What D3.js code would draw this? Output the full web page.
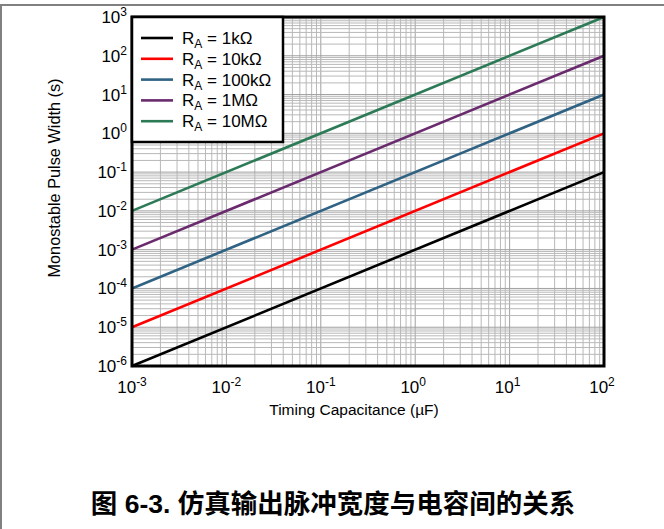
<!DOCTYPE html>
<html>
<head>
<meta charset="utf-8">
<script src="https://cdn.jsdelivr.net/npm/d3@7"></script>
<style>
  html, body { margin: 0; padding: 0; background: #fff; }
  svg text { font-family: "Liberation Sans", Arial, sans-serif; fill: #000; }
</style>
</head>
<body>
<svg id="chart" width="664" height="529"></svg>
<script>
'use strict';

/* ── Data ─────────────────────────────────────────────── */
const capRange   = [1e-3, 1e2];                 // timing capacitance, µF
const seriesName = ['1k\u03A9', '10k\u03A9', '100k\u03A9', '1M\u03A9', '10M\u03A9'];
const seriesCol  = ['#000000', '#ff0000', '#2f6283', '#6a2b6e', '#2c7a56'];
// pulse width (s) at each end of capRange
const seriesVals = [
  [1e-6, 1e-1],
  [1e-5, 1e0],
  [1e-4, 1e1],
  [1e-3, 1e2],
  [1e-2, 1e3]
];
const xExps = [-3, -2, -1, 0, 1, 2];
const yExps = [-6, -5, -4, -3, -2, -1, 0, 1, 2, 3];

/* ── Layout ───────────────────────────────────────────── */
const svg = d3.select('#chart');
const L = 132, R = 604, T = 17, B = 366;

const x = d3.scaleLog().domain(capRange).range([L, R]);
const y = d3.scaleLog().domain([1e-6, 1e3]).range([B, T]);

/* page frame */
svg.append('line').attr('x1', 0).attr('x2', 664).attr('y1', 5).attr('y2', 5)
  .attr('stroke', '#808080').attr('stroke-width', 2);
svg.append('line').attr('x1', 1).attr('x2', 1).attr('y1', 5).attr('y2', 529)
  .attr('stroke', '#808080').attr('stroke-width', 2);

/* ── Grid ── */
const minor = (exps) => {
  const out = [];
  for (let i = 0; i < exps.length - 1; i++)
    for (let k = 1; k < 10; k++) out.push(k * Math.pow(10, exps[i]));
  out.push(Math.pow(10, exps[exps.length - 1]));
  return out;
};

const grid = svg.append('g');
grid.selectAll('.gx').data(minor(xExps)).enter().append('line')
  .attr('x1', d => x(d)).attr('x2', d => x(d)).attr('y1', T).attr('y2', B)
  .attr('stroke', (d, i) => i % 9 === 0 ? '#a0a0a0' : '#b8b8b8').attr('stroke-width', 1);
grid.selectAll('.gy').data(minor(yExps)).enter().append('line')
  .attr('y1', d => y(d)).attr('y2', d => y(d)).attr('x1', L).attr('x2', R)
  .attr('stroke', (d, i) => i % 9 === 0 ? '#a0a0a0' : '#b8b8b8').attr('stroke-width', 1);

/* ── Series ── */
const line = d3.line().x(d => x(d[0])).y(d => y(d[1]));
seriesVals.forEach((v, i) => {
  svg.append('path')
    .attr('d', line([[capRange[0], v[0]], [capRange[1], v[1]]]))
    .attr('fill', 'none').attr('stroke', seriesCol[i]).attr('stroke-width', 2.6);
});

/* plot border */
svg.append('rect').attr('x', L).attr('y', T).attr('width', R - L).attr('height', B - T)
  .attr('fill', 'none').attr('stroke', '#000').attr('stroke-width', 3);

/* ── Tick labels ── */
function pow10(sel, e) {
  sel.append('tspan').text('10');
  sel.append('tspan').attr('dy', -7).attr('font-size', 12).text(e);
}
xExps.forEach(e => {
  const t = svg.append('text').attr('x', x(Math.pow(10, e)) + (e < 0 ? 0 : -2)).attr('y', 393)
    .attr('text-anchor', 'middle').attr('font-size', 17);
  pow10(t, e);
});
yExps.forEach(e => {
  const t = svg.append('text').attr('x', 127).attr('y', y(Math.pow(10, e)) + 6)
    .attr('text-anchor', 'end').attr('font-size', 17);
  pow10(t, e);
});

/* axis titles */
svg.append('text').attr('x', 354).attr('y', 415).attr('text-anchor', 'middle')
  .attr('font-size', 15.5).text('Timing Capacitance (\u00B5F)');
svg.append('text').attr('transform', 'translate(60,178) rotate(-90)')
  .attr('text-anchor', 'middle').attr('font-size', 16.3).text('Monostable Pulse Width (s)');

/* ── Legend ── */
const lg = svg.append('g');
lg.append('rect').attr('x', L).attr('y', T).attr('width', 151).attr('height', 125)
  .attr('fill', '#fff').attr('stroke', '#000').attr('stroke-width', 2.5);
seriesName.forEach((n, i) => {
  const ly = 38 + i * 20.8;
  lg.append('line').attr('x1', 141).attr('x2', 173).attr('y1', ly).attr('y2', ly)
    .attr('stroke', seriesCol[i]).attr('stroke-width', 2.6);
  const t = lg.append('text').attr('x', 182).attr('y', ly + 6).attr('font-size', 17);
  t.append('tspan').text('R');
  t.append('tspan').attr('dy', 4).attr('font-size', 12).text('A');
  t.append('tspan').attr('dy', -4).text(' = ' + n);
});

/* ── Caption ── */
const cap = svg.append('text').attr('x', 333).attr('y', 513).attr('text-anchor', 'middle')
  .attr('font-size', 26.5).attr('font-weight', 'bold')
  .style('font-family', '"Liberation Sans", "Noto Sans CJK SC", sans-serif');
cap.text('\u56FE 6-3. \u4EFF\u771F\u8F93\u51FA\u8109\u51B2\u5BBD\u5EA6\u4E0E\u7535\u5BB9\u95F4\u7684\u5173\u7CFB');
</script>
</body>
</html>
